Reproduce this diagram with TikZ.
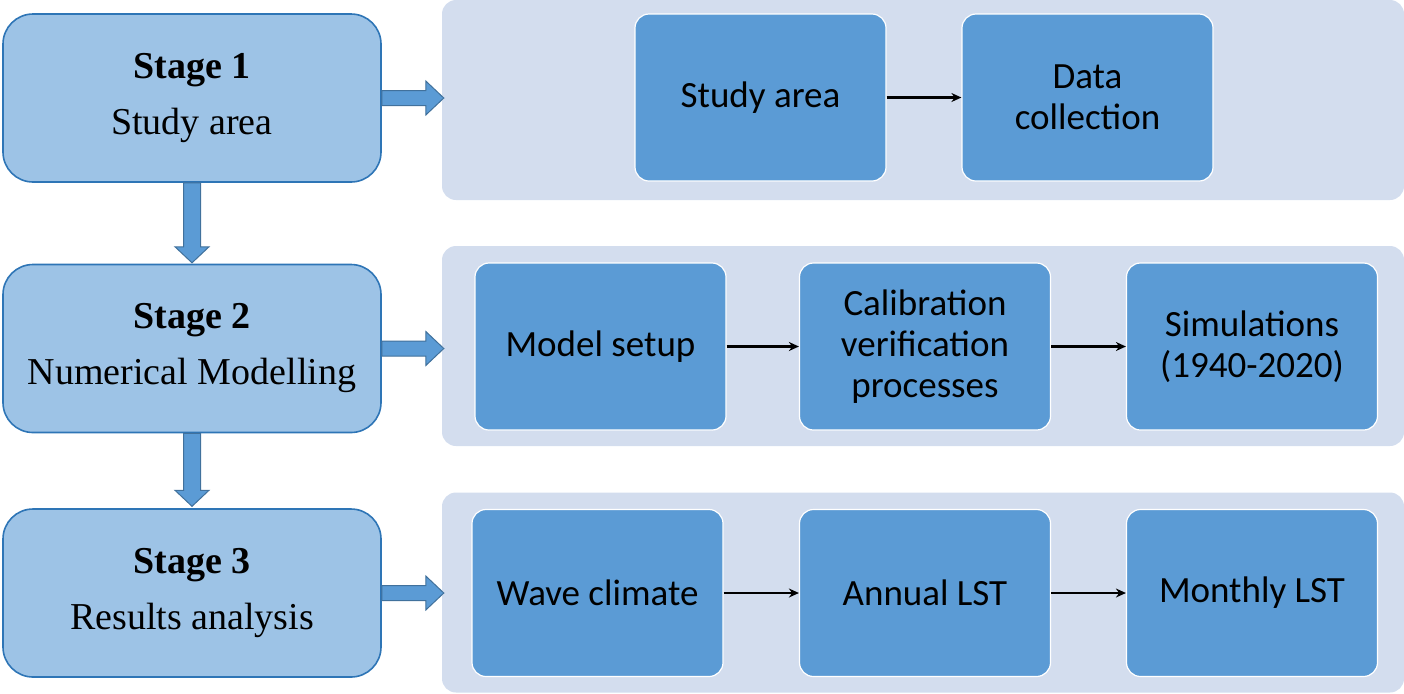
\documentclass[tikz,border=0pt]{standalone}
\usepackage{fontspec}
\setmainfont{Liberation Serif}
\newfontfamily\boxfont{Carlito}
\usetikzlibrary{arrows.meta}
\definecolor{stagefill}{HTML}{9DC3E6}
\definecolor{stageline}{HTML}{2E75B6}
\definecolor{stepfill}{HTML}{5B9BD5}
\definecolor{arrowline}{HTML}{41719C}
\definecolor{panelfill}{HTML}{D3DDEE}
\begin{document}
\begin{tikzpicture}[x=0.5pt,y=-0.5pt,
  stagebox/.style={draw=stageline,line width=0.8pt,fill=stagefill,rounded corners=15pt,
    minimum width=189pt,minimum height=84pt,align=center,
    font=\fontsize{19}{28}\selectfont},
  panel/.style={fill=panelfill,draw=none,rounded corners=7pt,
    minimum width=481pt,minimum height=100pt},
  stepbox/.style={draw=white,line width=0.6pt,fill=stepfill,rounded corners=7pt,
    minimum width=125.5pt,minimum height=83.5pt,align=center,
    font=\boxfont\fontsize{18.5}{20.5}\selectfont},
  flow/.style={-{Stealth[length=5pt,width=4.5pt]},line width=1.1pt},
  bigarrow/.style={fill=stepfill,draw=arrowline,line width=0.5pt}]
\useasboundingbox (0,0) rectangle (1404,693);
\node[panel] (p1) at (923,100) {};
\node[panel] (p2) at (923,346) {};
\node[panel] (p3) at (923,592.5) {};
\node[stagebox] (s1) at (192,98) {\textbf{Stage 1}\\Study area};
\node[stagebox] (s2) at (192,348.5) {\textbf{Stage 2}\\Numerical Modelling};
\node[stagebox] (s3) at (192,593) {\textbf{Stage 3}\\Results analysis};
\node[stepbox] (area) at (760.5,97.5) {Study area};
\node[stepbox] (data) at (1087.5,97.5) {Data\\collection};
\node[stepbox] (setup) at (600.5,346.5) {Model setup};
\node[stepbox] (calib) at (925,346.5) {Calibration\\verification\\processes};
\node[stepbox] (sim) at (1252,346.5) {Simulations\\(1940-2020)};
\node[stepbox] (wave) at (597.5,593) {Wave climate};
\node[stepbox] (annual) at (925,593) {Annual LST};
\node[stepbox] (monthly) at (1252,593) {Monthly LST};
\draw[flow] (area) -- (data);
\draw[flow] (setup) -- (calib);
\draw[flow] (calib) -- (sim);
\draw[flow] (wave) -- (annual);
\draw[flow] (annual) -- (monthly);
\foreach \s in {s1,s2,s3}
  \draw[bigarrow] (\s.east) ++(0,-7.5) -- ++(44,0) -- ++(0,-9.5) -- ++(18,17)
    -- ++(-18,17) -- ++(0,-9.5) -- ++(-44,0) -- cycle;
\draw[bigarrow] (s1.south) ++(-8.5,0) -- ++(0,64) -- ++(-8.5,0) -- ++(17,16)
  -- ++(17,-16) -- ++(-8.5,0) -- ++(0,-64) -- cycle;
\draw[bigarrow] (s2.south) ++(-8.5,0) -- ++(0,57) -- ++(-8.5,0) -- ++(17,16)
  -- ++(17,-16) -- ++(-8.5,0) -- ++(0,-57) -- cycle;
\end{tikzpicture}
\end{document}
